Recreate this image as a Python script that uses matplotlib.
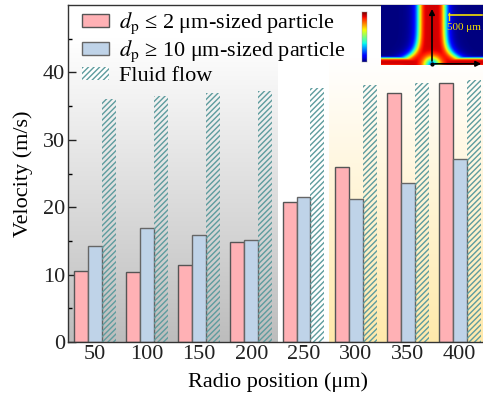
import numpy as np
import matplotlib
matplotlib.use("Agg")
import matplotlib.pyplot as plt
from matplotlib.patches import Patch

plt.rcParams['font.family'] = ['Liberation Serif', 'DejaVu Serif']
plt.rcParams['mathtext.fontset'] = 'stix'
plt.rcParams['hatch.linewidth'] = 1.0

positions = [50, 100, 150, 200, 250, 300, 350, 400]
small_particle = [10.6, 10.4, 11.4, 14.8, 20.7, 26.0, 36.9, 38.5]
large_particle = [14.3, 16.9, 15.9, 15.1, 21.5, 21.2, 23.6, 27.2]
fluid_flow = [36.1, 36.5, 37.0, 37.3, 37.7, 38.1, 38.5, 38.8]
labels = [r'$d_\mathrm{p}$ ≤ 2 μm-sized particle',
          r'$d_\mathrm{p}$ ≥ 10 μm-sized particle',
          'Fluid flow']

pink = '#FFB1B5'
blue = '#BFD3E8'
teal = '#5E9C9E'
FS = 16

fig = plt.figure(figsize=(4.83, 3.96), dpi=100)
ax_w_px = 420
ax = fig.add_axes([68/483, 54/396, ax_w_px/483, (342-5)/396])

bw = 13.4
x = np.array(positions, dtype=float)
xlim = (24, 24 + ax_w_px / 1.042)
ylim = (0, 50)

# background gradients
yy = np.linspace(0, 50, 200)[:, None]
t_gray = np.clip(yy / 45.0, 0, 1)
g = 0.74 + 0.26 * t_gray
gray_img = np.dstack([g, g, g])
ax.imshow(gray_img, extent=[xlim[0], 225.5, 0, 50], origin='lower', aspect='auto',
          zorder=0, interpolation='bilinear')
t_y = np.clip(yy / 42.0, 0, 1)
ybot = np.array([1.0, 0.915, 0.67])
yel = ybot[None, None, :] * (1 - t_y[..., None]) + np.ones(3)[None, None, :] * t_y[..., None]
yel = np.repeat(yel, 2, axis=1)
ax.imshow(yel, extent=[274.5, xlim[1], 0, 50], origin='lower', aspect='auto',
          zorder=0, interpolation='bilinear')

ax.bar(x - bw, small_particle, bw, color=pink, edgecolor='#555555', linewidth=1.0, zorder=2)
ax.bar(x, large_particle, bw, color=blue, edgecolor='#666666', linewidth=1.0, zorder=2)
ax.bar(x + bw, fluid_flow, bw, facecolor='none', edgecolor=teal, linewidth=0,
       hatch='//////', zorder=2)

ax.set_xlim(*xlim)
ax.set_ylim(*ylim)
ax.set_xticks(positions)
ax.set_xticklabels([str(p) for p in positions])
ax.set_yticks([0, 10, 20, 30, 40])
ax.set_yticks([5, 15, 25, 35, 45], minor=True)
ax.tick_params(axis='both', which='major', direction='in', length=6, width=1,
               labelsize=FS, colors='#222222', pad=2)
ax.tick_params(axis='y', which='minor', direction='in', length=3, width=1)
for s in ax.spines.values():
    s.set_color('#333333')
    s.set_linewidth(1.0)
ax.set_xlabel('Radio position (μm)', fontsize=FS, labelpad=6)
ax.set_ylabel('Velocity (m/s)', fontsize=FS, labelpad=7)

handles = [Patch(facecolor=pink, edgecolor='#555555', linewidth=1.0),
           Patch(facecolor=blue, edgecolor='#666666', linewidth=1.0),
           Patch(facecolor='white', edgecolor=teal, linewidth=0, hatch='//////')]
leg = ax.legend(handles, labels, loc='upper left', bbox_to_anchor=(0.02, 1.0),
                frameon=False, fontsize=FS, handlelength=1.2, handleheight=0.5,
                handletextpad=0.45, labelspacing=0.12, borderaxespad=0.15,
                borderpad=0.1)

# inset simulation picture
H, W = 120, 204
u = np.linspace(-1, 1, W)[None, :]
h = np.linspace(1, 0, H)[:, None]
w = 0.26 + 0.75 * np.exp(-h / 0.11)
v_jet = 1.0 / (1.0 + (np.abs(u) / w) ** 6)
v_wall = np.exp(-((h - 0.04) / 0.08) ** 4)
v = np.maximum(v_jet, v_wall)
v = v * (1 - 0.75 * np.exp(-((u / 0.16) ** 2 + (h / 0.13) ** 2)))
ax_in = fig.add_axes([381/483, (396-65)/396, 102/483, 60/396])
ax_in.imshow(v, cmap='jet', vmin=0, vmax=1.08, aspect='auto', extent=[-1, 1, 0, 1],
             interpolation='bilinear')
ax_in.set_xlim(-1, 1)
ax_in.set_ylim(0, 1)
ax_in.set_xticks([])
ax_in.set_yticks([])
for s in ax_in.spines.values():
    s.set_visible(False)
ax_in.annotate('', xy=(0.0, 0.98), xytext=(0.0, 0.02), xycoords='data',
               arrowprops=dict(arrowstyle='-|>', color='black', lw=1.2, mutation_scale=8),
               annotation_clip=False)
ax_in.annotate('', xy=(1.02, 0.02), xytext=(0.0, 0.02), xycoords='data',
               arrowprops=dict(arrowstyle='-|>', color='black', lw=1.2, mutation_scale=8),
               annotation_clip=False)
ax_in.plot([0.0], [0.02], 'o', color='black', ms=2, clip_on=False)
ax_in.plot([0.33, 0.99], [0.83, 0.83], color='#F5E000', lw=1.2)
ax_in.plot([0.33, 0.33], [0.75, 0.86], color='#F5E000', lw=1.0)
ax_in.text(0.30, 0.62, '500 μm', color='#F5E000', fontsize=8, ha='left', va='center',
           zorder=5)

ax_cb = fig.add_axes([362/483, (396-62)/396, 5/483, 50/396])
ax_cb.imshow(np.linspace(1, 0, 100)[:, None], cmap='jet', aspect='auto')
ax_cb.set_xticks([])
ax_cb.set_yticks([])
for s in ax_cb.spines.values():
    s.set_linewidth(0.3)
    s.set_color('#999999')

fig.savefig('out.png', dpi=100)
